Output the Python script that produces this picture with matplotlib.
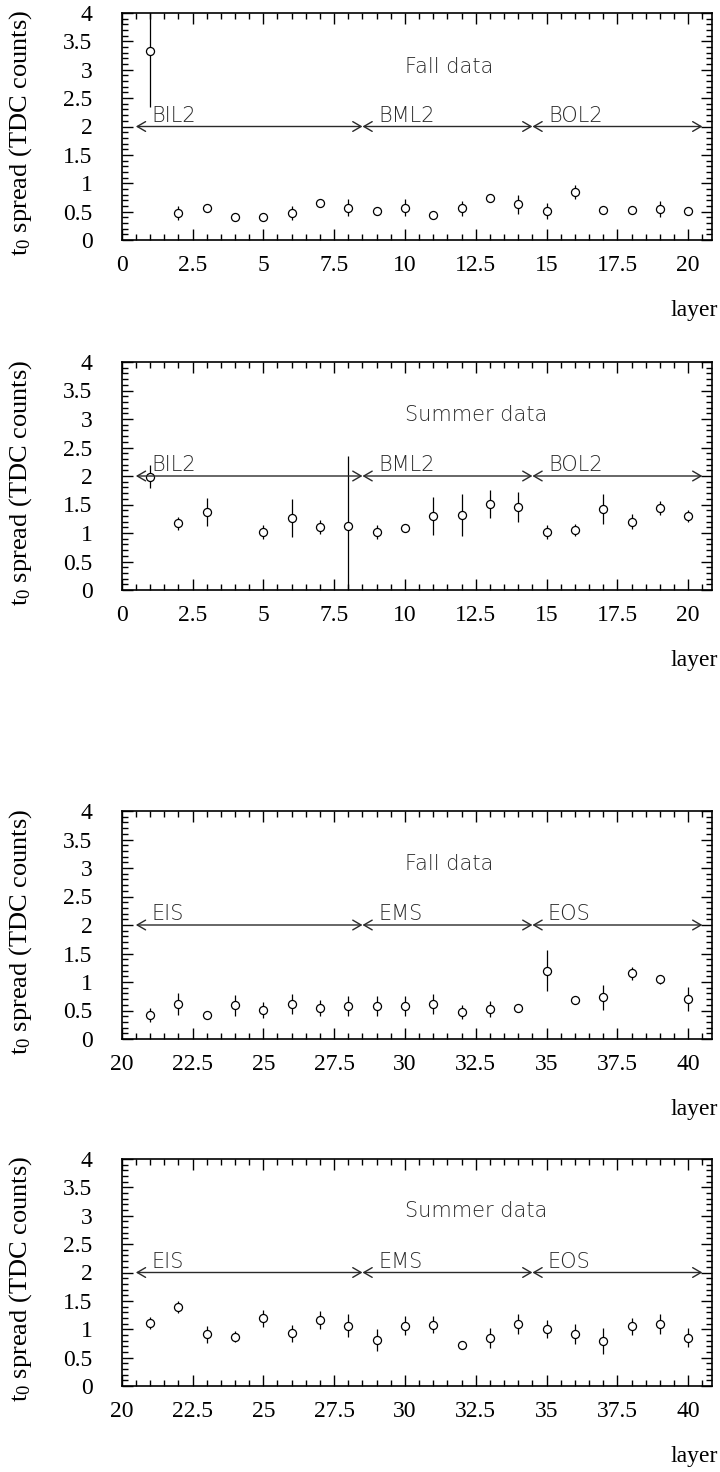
import matplotlib
matplotlib.use("Agg")
import matplotlib.pyplot as plt
from matplotlib.ticker import MultipleLocator

plt.rcParams['font.family'] = ['Liberation Serif', 'DejaVu Serif']
plt.rcParams['mathtext.fontset'] = 'custom'
plt.rcParams['mathtext.rm'] = 'Liberation Serif'
plt.rcParams['mathtext.it'] = 'Liberation Serif:italic'

# ---------------- data ----------------
barrel_layers = [1, 2, 3, 4, 5, 6, 7, 8, 9, 10, 11, 12, 13, 14, 15, 16, 17, 18, 19, 20]
fall_barrel = [3.33, 0.48, 0.57, 0.40, 0.41, 0.48, 0.66, 0.57, 0.51, 0.57,
               0.44, 0.56, 0.74, 0.63, 0.51, 0.85, 0.53, 0.53, 0.55, 0.51]
fall_barrel_err = [0.98, 0.12, 0.05, 0.04, 0.04, 0.12, 0.05, 0.15, 0.06, 0.15,
                   0.05, 0.13, 0.06, 0.17, 0.14, 0.12, 0.05, 0.05, 0.14, 0.06]

summer_barrel_layers = [1, 2, 3, 5, 6, 7, 8, 9, 10, 11, 12, 13, 14, 15, 16, 17, 18, 19, 20]
summer_barrel = [1.99, 1.17, 1.37, 1.02, 1.26, 1.11, 1.13, 1.02, 1.09, 1.30,
                 1.32, 1.51, 1.46, 1.02, 1.05, 1.42, 1.20, 1.44, 1.30]
summer_barrel_err = [0.20, 0.11, 0.25, 0.12, 0.33, 0.12, 1.22, 0.12, 0.07, 0.34,
                     0.37, 0.25, 0.26, 0.12, 0.10, 0.26, 0.13, 0.12, 0.10]

endcap_layers = [21, 22, 23, 24, 25, 26, 27, 28, 29, 30,
                 31, 32, 33, 34, 35, 36, 37, 38, 39, 40]
fall_endcap = [0.42, 0.61, 0.42, 0.59, 0.51, 0.61, 0.54, 0.58, 0.58, 0.58,
               0.61, 0.47, 0.52, 0.54, 1.20, 0.69, 0.73, 1.15, 1.05, 0.71]
fall_endcap_err = [0.12, 0.19, 0.04, 0.18, 0.14, 0.18, 0.14, 0.17, 0.17, 0.17,
                   0.18, 0.12, 0.14, 0.05, 0.36, 0.05, 0.22, 0.12, 0.08, 0.21]
summer_endcap = [1.11, 1.39, 0.91, 0.87, 1.19, 0.93, 1.16, 1.06, 0.81, 1.06,
                 1.08, 0.72, 0.85, 1.09, 1.01, 0.92, 0.79, 1.05, 1.09, 0.85]
summer_endcap_err = [0.10, 0.11, 0.15, 0.10, 0.15, 0.15, 0.16, 0.20, 0.20, 0.17,
                     0.15, 0.07, 0.18, 0.17, 0.16, 0.18, 0.23, 0.15, 0.17, 0.17]

barrel_sections = ['BIL2', 'BML2', 'BOL2']
barrel_edges = [0.5, 8.5, 14.5, 20.5]
endcap_sections = ['EIS', 'EMS', 'EOS']
endcap_edges = [20.5, 28.5, 34.5, 40.5]
section_y = 2.0

panel_titles = ['Fall data', 'Summer data', 'Fall data', 'Summer data']
ylabel = r't$_{\mathrm{0}}$ spread (TDC counts)'
xlabel = 'layer'

# ---------------- layout ----------------
W, H = 720, 1472
fig = plt.figure(figsize=(W / 100, H / 100), dpi=100)
left_px, right_px = 121.7, 712.0
panel_px = [(13, 240), (362, 590), (811, 1039), (1159, 1386)]

panels = [
    (barrel_layers, fall_barrel, fall_barrel_err, barrel_sections, barrel_edges, (0, 20.84), 2.95),
    (summer_barrel_layers, summer_barrel, summer_barrel_err, barrel_sections, barrel_edges, (0, 20.84), 2.97),
    (endcap_layers, fall_endcap, fall_endcap_err, endcap_sections, endcap_edges, (20, 40.84), 2.97),
    (endcap_layers, summer_endcap, summer_endcap_err, endcap_sections, endcap_edges, (20, 40.84), 2.97),
]

text_color = '#2a2a2a'
for i, (x, y, e, names, edges, xlim, ty) in enumerate(panels):
    top, bot = panel_px[i]
    ax = fig.add_axes([left_px / W, 1 - bot / H, (right_px - left_px) / W, (bot - top) / H])
    ax.errorbar(x, y, yerr=e, fmt='o', ms=5.8, mfc='white', mec='black', mew=0.9,
                ecolor='black', elinewidth=0.9, capsize=0)
    ax.set_xlim(*xlim)
    ax.set_ylim(0, 4)

    # sections
    for k in range(3):
        ax.annotate('', xy=(edges[k + 1], section_y), xytext=(edges[k], section_y),
                    arrowprops=dict(arrowstyle='<->,head_length=0.6,head_width=0.35',
                                    lw=1.0, color=text_color, shrinkA=0, shrinkB=0,
                                    mutation_scale=10))
        ax.text(edges[k] + 0.55, section_y + 0.08, names[k], fontsize=15,
                family='DejaVu Sans', fontweight=200, color=text_color,
                ha='left', va='baseline')
    ax.text(xlim[0] + 10.0, ty, panel_titles[i], fontsize=15, family='DejaVu Sans',
            fontweight=200, color=text_color, ha='left', va='baseline')

    # ticks
    ax.xaxis.set_major_locator(MultipleLocator(2.5))
    ax.xaxis.set_minor_locator(MultipleLocator(0.5))
    ax.yaxis.set_major_locator(MultipleLocator(0.5))
    ax.yaxis.set_minor_locator(MultipleLocator(0.1))
    ax.tick_params(which='both', direction='in', top=True, right=True, width=1.0)
    ax.tick_params(which='major', length=8)
    ax.tick_params(which='minor', length=4)
    ax.tick_params(axis='x', which='major', labelsize=17, pad=11)
    ax.tick_params(axis='y', which='major', labelsize=17, pad=21)
    ax.xaxis.set_major_formatter(plt.FuncFormatter(lambda v, p: f'{v:g}'))
    ax.yaxis.set_major_formatter(plt.FuncFormatter(lambda v, p: f'{v:g}'))
    for s in ax.spines.values():
        s.set_linewidth(1.2)

    ax.set_ylabel(ylabel, fontsize=19)
    ax.yaxis.label.set_va('center')
    ax.yaxis.set_label_coords(-0.172, 0.47)
    ax.set_xlabel(xlabel, fontsize=17)
    ax.xaxis.label.set_ha('right')
    ax.xaxis.label.set_va('center')
    ax.xaxis.set_label_coords(1.01, -0.31)

fig.savefig('out.png', dpi=100)
